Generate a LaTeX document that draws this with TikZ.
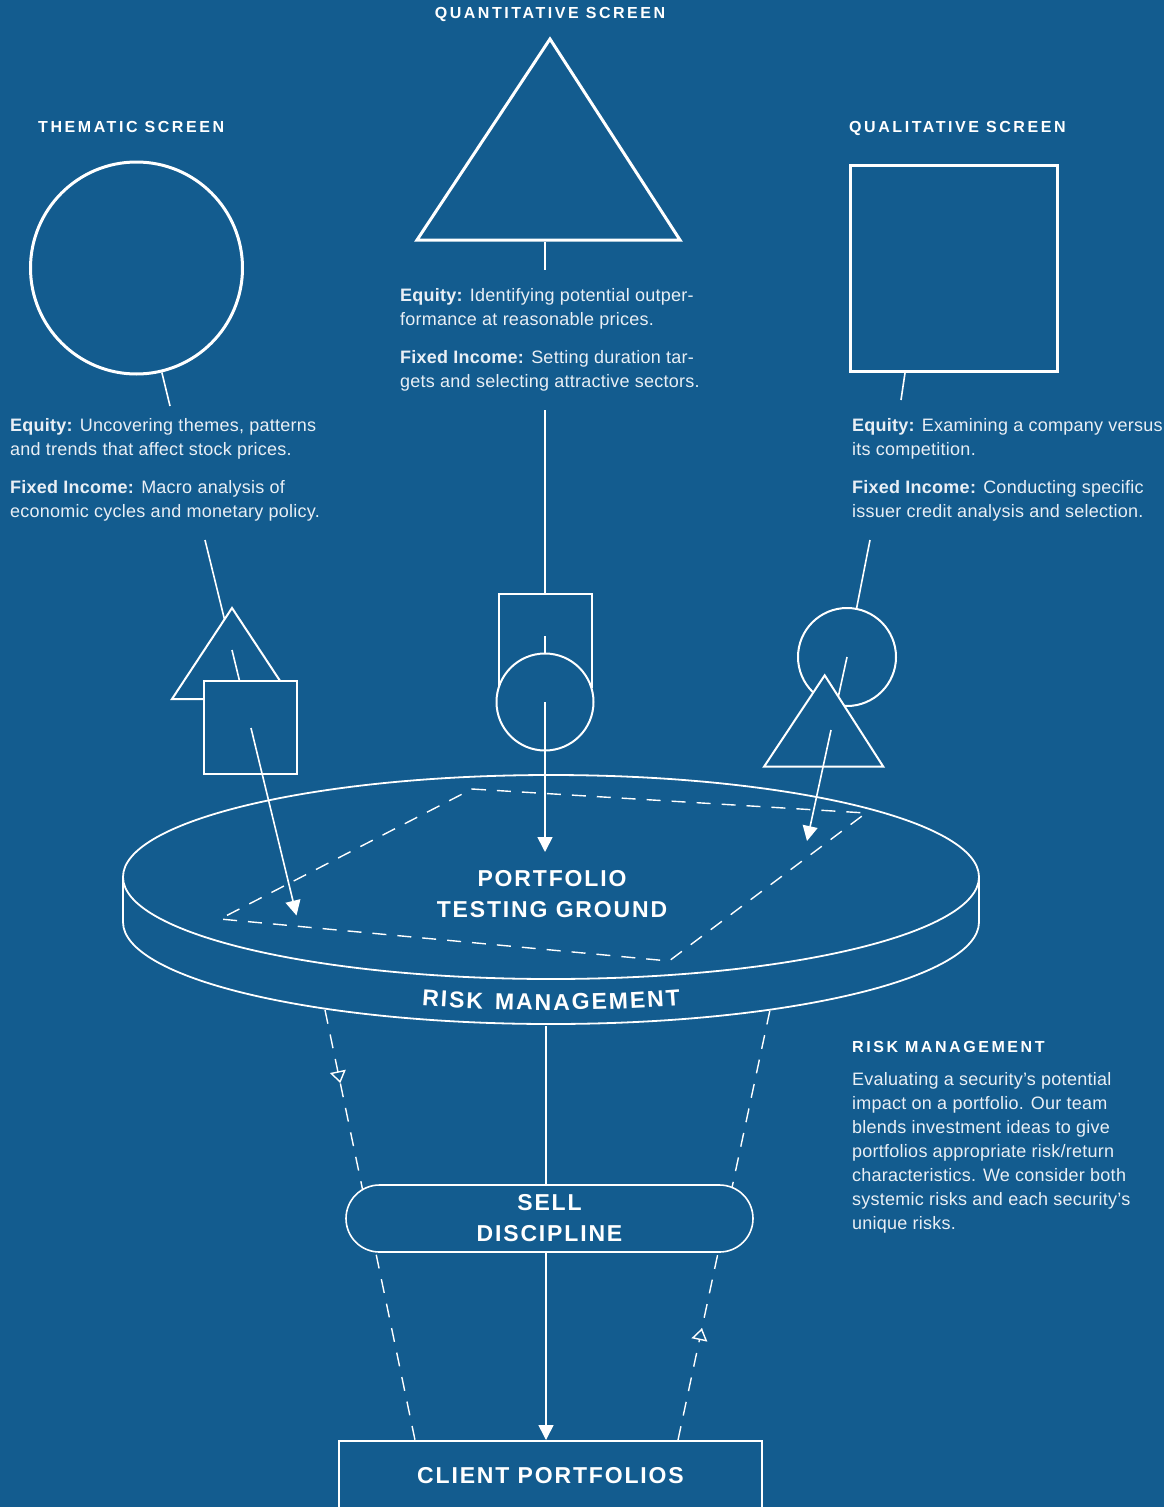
\documentclass[tikz,border=0pt]{standalone}
\usepackage{fontspec}
\setmainfont{Liberation Sans}
\newfontfamily\bodyfont[LetterSpace=1.4]{Liberation Sans}
\newfontfamily\spacedfont[LetterSpace=16]{Liberation Sans}
\newfontfamily\blockfont[LetterSpace=8]{Liberation Sans}
\usetikzlibrary{arrows.meta,decorations.text,decorations.markings}
\definecolor{bgblue}{HTML}{135C8F}
\definecolor{inkwhite}{HTML}{E9EFF5}

\tikzset{
	bigshape/.style={draw=white, line width=3pt},
	smallshape/.style={draw=white, fill=bgblue, line width=2pt, inner sep=0pt},
	pointer/.style={white, line width=1.6pt},
	headtip/.style={-{Triangle[width=15pt, length=15pt]}},
	dashline/.style={white, line width=1.4pt, dash pattern=on 14pt off 11pt},
	funnelarrow/.style={postaction={decorate}, decoration={markings,
		mark=at position #1 with {\arrow[line width=1.4pt]{Triangle[open, width=16pt, length=12pt, fill=bgblue]}}}},
	screentitle/.style={text=white, inner sep=0pt, anchor=base west,
		font=\spacedfont\bfseries\fontsize{16}{19}\selectfont},
	blurb/.style={text=inkwhite, inner sep=0pt, anchor=base west, align=left,
		font=\bodyfont\fontsize{18}{24}\selectfont},
	stage/.style={text=white, inner sep=0pt, align=center,
		font=\blockfont\bfseries\fontsize{23}{31}\selectfont}
}

\begin{document}
\begin{tikzpicture}[x=1pt, y=-1pt]
	\useasboundingbox (0,0) rectangle (1164,1507);
	\fill[bgblue] (0,0) rectangle (1164,1507);

	% thematic screen (blurb nodes sit on their last baseline)
	\node[screentitle] (themTitle) at (38,132) {THEMATIC SCREEN};
	\node[bigshape, circle, minimum size=212pt, inner sep=0pt] (themRing) at (136.5,268) {};
	\coordinate (themStem) at (170,406);
	\draw[pointer] (themRing) -- (themStem);
	\node[blurb] (themEquity) at (10,455) {\textbf{Equity:} Uncovering themes, patterns\\and trends that affect stock prices.};
	\node[blurb] (themFixed) at (10,517) {\textbf{Fixed Income:} Macro analysis of\\economic cycles and monetary policy.};

	% quantitative screen
	\node[screentitle, anchor=base] (quantTitle) at (550,18) {QUANTITATIVE SCREEN};
	\draw[bigshape] (550,39) -- (680,240) -- (417,240) -- cycle;
	\coordinate (quantStem) at (545,242);
	\coordinate (quantStemEnd) at (545,270);
	\draw[pointer] (quantStem) -- (quantStemEnd);
	\node[blurb] (quantEquity) at (400,325) {\textbf{Equity:} Identifying potential outper-\\formance at reasonable prices.};
	\node[blurb] (quantFixed) at (400,387) {\textbf{Fixed Income:} Setting duration tar-\\gets and selecting attractive sectors.};

	% qualitative screen
	\node[screentitle] (qualTitle) at (849,132) {QUALITATIVE SCREEN};
	\node[bigshape, minimum width=207pt, minimum height=206pt, inner sep=0pt] (qualBox) at (953.5,268) {};
	\coordinate (qualStem) at (905,373);
	\coordinate (qualStemEnd) at (901,400);
	\draw[pointer] (qualStem) -- (qualStemEnd);
	\node[blurb] (qualEquity) at (852,455) {\textbf{Equity:} Examining a company versus\\its competition.};
	\node[blurb] (qualFixed) at (852,517) {\textbf{Fixed Income:} Conducting specific\\issuer credit analysis and selection.};

	% platform
	\draw[white, line width=1.8pt] (123,877) -- (123,922) arc[start angle=180, end angle=0, x radius=428, y radius=102] -- (979,877);
	\draw[white, line width=1.8pt] (551,877) ellipse[x radius=428, y radius=102];
	\draw[dashline] (472,789) -- (866,813) -- (669,961) -- (220,919) -- cycle;
	\node[stage] (testing) at (552,894) {PORTFOLIO\\TESTING GROUND};
	\path[decorate, decoration={text effects along path, text={RISK MANAGEMENT}, text align=center,
		text effects/.cd,
		characters={text along path, text=white, font=\blockfont\bfseries\fontsize{23}{23}\selectfont},
		character widths={font=\blockfont\bfseries\fontsize{23}{23}\selectfont, inner xsep=1pt}}]
		(305.5,991.6) arc[start angle=125, end angle=55, x radius=428, y radius=102];

	% left blend
	\coordinate (themDrop) at (205,540);
	\coordinate (themTriMid) at (232,650);
	\coordinate (themBoxMid) at (251,728);
	\coordinate (themHit) at (296.5,915.5);
	\draw[pointer] (themDrop) -- (themTriMid);
	\draw[smallshape] (232,608) -- (292,699) -- (172,699) -- cycle;
	\draw[pointer] (themTriMid) -- (themBoxMid);
	\node[smallshape, minimum size=93pt] (themBox) at (250,727) {};
	\draw[pointer, headtip] (themBoxMid) -- (themHit);

	% middle blend
	\coordinate (quantDrop) at (545,410);
	\coordinate (quantBoxMid) at (545,636);
	\coordinate (quantRingMid) at (545,702);
	\coordinate (quantHit) at (545,852);
	\draw[pointer] (quantDrop) -- (quantBoxMid);
	\node[smallshape, minimum size=93pt] (quantBox) at (545.5,640.5) {};
	\draw[pointer] (quantBoxMid) -- (quantRingMid);
	\node[smallshape, circle, minimum size=97pt] (quantRing) at (quantRingMid) {};
	\draw[pointer, headtip] (quantRingMid) -- (quantHit);

	% right blend
	\coordinate (qualDrop) at (870,540);
	\coordinate (qualRingMid) at (847,657);
	\coordinate (qualTriMid) at (831,730);
	\coordinate (qualHit) at (807,841);
	\draw[pointer] (qualDrop) -- (qualRingMid);
	\node[smallshape, circle, minimum size=98pt] (qualRing) at (qualRingMid) {};
	\draw[pointer] (qualRingMid) -- (qualTriMid);
	\draw[smallshape] (824.7,675.3) -- (883.3,766.7) -- (764,766.7) -- cycle;
	\draw[pointer, headtip] (qualTriMid) -- (qualHit);

	% funnel to clients
	\coordinate (rimLeft) at (325,1010);
	\coordinate (rimMid) at (546,1026);
	\coordinate (rimRight) at (770,1010);
	\coordinate (clientLeft) at (415,1440);
	\coordinate (clientMid) at (546,1440);
	\coordinate (clientRight) at (678,1440);
	\draw[dashline, funnelarrow=0.17] (rimLeft) -- (clientLeft);
	\draw[dashline, funnelarrow=0.26] (clientRight) -- (rimRight);
	\draw[pointer, headtip] (rimMid) -- (clientMid);
	\node[smallshape, stage, line width=1.6pt, rounded corners=33.5pt, minimum width=407pt, minimum height=67pt] (sell) at (549.5,1218.5) {SELL\\DISCIPLINE};
	\node[draw=white, line width=1.6pt, stage, anchor=north, minimum width=423pt, minimum height=70pt] (client) at (550.5,1440) {CLIENT PORTFOLIOS};

	% risk management note
	\node[screentitle] (riskTitle) at (852,1052) {RISK MANAGEMENT};
	\node[blurb] (riskText) at (852,1229) {Evaluating a security’s potential\\impact on a portfolio. Our team\\blends investment ideas to give\\portfolios appropriate risk/return\\characteristics. We consider both\\systemic risks and each security’s\\unique risks.};
\end{tikzpicture}
\end{document}
